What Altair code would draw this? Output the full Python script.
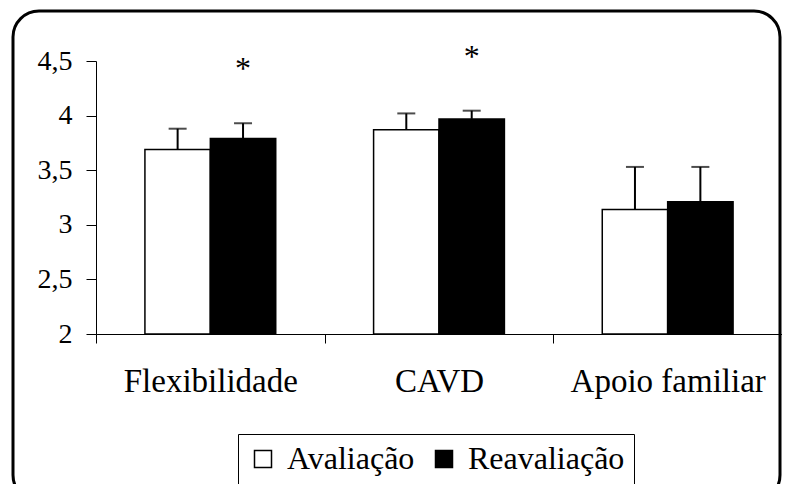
import altair as alt
import pandas as pd

categorias = ["Flexibilidade", "CAVD", "Apoio familiar"]
momentos = ["Avaliação", "Reavaliação"]
media_avaliacao = [3.69, 3.87, 3.14]
media_reavaliacao = [3.79, 3.97, 3.21]
erro_avaliacao = [0.19, 0.15, 0.39]
erro_reavaliacao = [0.14, 0.075, 0.32]
signif_reavaliacao = ["*", "*", ""]
y_ticks = [2, 2.5, 3, 3.5, 4, 4.5]

rows = []
for i, c in enumerate(categorias):
    rows.append({"categoria": c, "momento": momentos[0], "media": media_avaliacao[i],
                 "topo": media_avaliacao[i] + erro_avaliacao[i], "sig": ""})
    rows.append({"categoria": c, "momento": momentos[1], "media": media_reavaliacao[i],
                 "topo": media_reavaliacao[i] + erro_reavaliacao[i], "sig": signif_reavaliacao[i]})
df = pd.DataFrame(rows)

FONT = "Liberation Serif"

x_enc = alt.X("categoria:N", sort=categorias,
              scale=alt.Scale(domain=categorias, paddingInner=0, paddingOuter=0),
              axis=alt.Axis(title=None, labelAngle=0, tickBand="extent", tickSize=9,
                            domainColor="black", tickColor="black", domainWidth=1, tickWidth=1,
                            labelFont=FONT, labelFontSize=33, labelColor="black",
                            labelPadding=22, labelLimit=0))
xo_enc = alt.XOffset("momento:N", sort=momentos,
                     scale=alt.Scale(domain=momentos, paddingInner=0, paddingOuter=0.748))
y_scale = alt.Scale(domain=[2, 4.5], nice=False, zero=False)

base = alt.Chart(df)

bars = base.mark_bar(stroke="black", strokeWidth=1.5).encode(
    x=x_enc,
    xOffset=xo_enc,
    y=alt.Y("media:Q", scale=y_scale,
            axis=alt.Axis(title=None, values=y_ticks, grid=False, tickSize=10,
                          domainColor="black", tickColor="black", domainWidth=1, tickWidth=1,
                          labelFont=FONT, labelFontSize=28, labelColor="black",
                          labelPadding=14,
                          labelExpr="replace(format(datum.value, '.1~f'), '.', ',')")),
    y2=alt.datum(2),
    color=alt.Color("momento:N", sort=momentos,
                    scale=alt.Scale(domain=momentos, range=["white", "black"]),
                    legend=alt.Legend(orient="none", legendX=142, legendY=373,
                                      direction="horizontal", title=None,
                                      strokeColor="black", padding=9,
                                      symbolType="square", symbolSize=289,
                                      symbolStrokeColor="black", symbolStrokeWidth=1.5,
                                      labelFont=FONT, labelFontSize=32, labelColor="black",
                                      labelOffset=8, columnPadding=13, labelLimit=0)),
)

rules = base.mark_rule(color="black", strokeWidth=2).encode(
    x=x_enc, xOffset=xo_enc,
    y=alt.Y("media:Q", scale=y_scale), y2="topo:Q",
)

caps = base.mark_tick(color="black", size=18, thickness=2).encode(
    x=x_enc, xOffset=xo_enc,
    y=alt.Y("topo:Q", scale=y_scale),
)

stars = base.mark_text(font=FONT, fontSize=32, color="black", dy=-44, baseline="alphabetic").encode(
    x=x_enc, xOffset=xo_enc,
    y=alt.Y("topo:Q", scale=y_scale),
    text="sig:N",
)

frame = alt.Chart(alt.Data(values=[{"f": 1}])).mark_rect(
    fillOpacity=0, stroke="black", strokeWidth=3, cornerRadius=26
).encode(
    x=alt.value(-83), x2=alt.value(684), y=alt.value(-50), y2=alt.value(440)
)

chart = alt.layer(bars, rules, caps, stars, frame).properties(
    width=686, height=273,
    padding={"left": 88, "top": 53, "right": 0, "bottom": 150},
    autosize=alt.AutoSizeParams(type="none"),
    background="white",
).configure_view(strokeWidth=0).configure_legend(strokeWidth=1)

chart.save("out.html", embed_options={"renderer": "svg", "actions": False})
